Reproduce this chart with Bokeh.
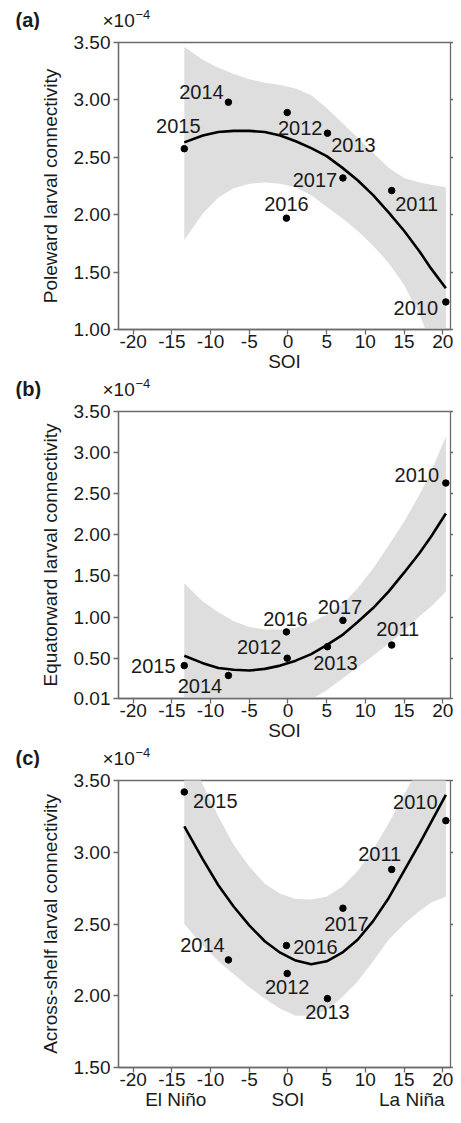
from bokeh.plotting import figure
from bokeh.models import Range1d, FixedTicker, LinearAxis, ColumnDataSource, PrintfTickFormatter
from bokeh.layouts import column
from bokeh.embed import file_html
from bokeh.resources import INLINE
from bokeh.core.properties import value

# ---------------- data (connectivity values in units of 1e-4) ----------------
years = ["2010", "2011", "2012", "2013", "2014", "2015", "2016", "2017"]
soi = [20.4, 13.4, -0.1, 5.1, -7.7, -13.4, -0.2, 7.1]
poleward = [1.24, 2.21, 2.89, 2.71, 2.98, 2.575, 1.97, 2.32]
equatorward = [2.63, 0.66, 0.50, 0.64, 0.29, 0.41, 0.82, 0.96]
across_shelf = [3.22, 2.88, 2.155, 1.98, 2.25, 3.42, 2.35, 2.61]

# fitted curves and confidence bands
fit_soi = [-13.4, -11, -9, -7, -5, -3, -1, 1, 3, 5, 7, 9, 11, 13, 15, 17, 18.5, 20.4]

pole_fit = [2.63, 2.69, 2.72, 2.73, 2.73, 2.72, 2.69, 2.64, 2.58, 2.51, 2.41, 2.30,
            2.17, 2.02, 1.86, 1.68, 1.53, 1.36]
pole_upper = [3.46, 3.35, 3.28, 3.225, 3.18, 3.15, 3.13, 3.10, 3.04, 2.93, 2.80, 2.67,
              2.54, 2.41, 2.32, 2.28, 2.26, 2.24]
pole_lower = [1.78, 2.01, 2.15, 2.23, 2.27, 2.28, 2.27, 2.24, 2.17, 2.07, 1.97, 1.86,
              1.73, 1.58, 1.39, 1.13, 0.88, 0.50]

equat_fit = [0.53, 0.44, 0.38, 0.36, 0.35, 0.37, 0.41, 0.47, 0.55, 0.66, 0.78, 0.94,
             1.11, 1.31, 1.54, 1.78, 1.98, 2.26]
equat_upper = [1.41, 1.19, 1.06, 0.95, 0.88, 0.85, 0.85, 0.87, 0.93, 1.03, 1.15, 1.35,
               1.59, 1.87, 2.16, 2.49, 2.77, 3.20]
equat_lower = [-0.20, -0.20, -0.20, -0.20, -0.20, -0.20, -0.20, -0.10, 0.00, 0.11, 0.25, 0.39,
               0.53, 0.68, 0.83, 1.01, 1.13, 1.31]

across_fit = [3.18, 2.95, 2.77, 2.62, 2.49, 2.38, 2.30, 2.245, 2.22, 2.24, 2.30, 2.39,
              2.52, 2.68, 2.87, 3.06, 3.21, 3.40]
across_upper = [3.75, 3.47, 3.25, 3.05, 2.90, 2.78, 2.71, 2.675, 2.67, 2.69, 2.76, 2.87,
                3.02, 3.20, 3.40, 3.60, 3.78, 4.00]
across_lower = [2.50, 2.35, 2.24, 2.15, 2.06, 1.98, 1.91, 1.86, 1.86, 1.90, 1.99, 2.10,
                2.24, 2.39, 2.50, 2.59, 2.65, 2.69]

x_ticks = [-20, -15, -10, -5, 0, 5, 10, 15, 20]
x_tick_labels = ["-20", "-15", "-10", "-5", "0", "5", "10", "15", "20"]
y_ticks_a = [1.00, 1.50, 2.00, 2.50, 3.00, 3.50]
y_ticks_b = [0.01, 0.50, 1.00, 1.50, 2.00, 2.50, 3.00, 3.50]
y_ticks_c = [1.50, 2.00, 2.50, 3.00, 3.50]
enso_ticks = [-14.5, 0, 16.0]
enso_labels = ["El Ni\u00f1o", "SOI", "La Ni\u00f1a"]

# ---------------- styling ----------------
FONT = "Liberation Sans"
SPINE = "#6b6b6b"
BAND = "#dedede"
TXT = "#1a1a1a"
W = 453
TOP = 12
MAIN_H = 347

# label offsets (px) in years order
off_a = ([-30, 25, 13, 26, -27, -6, 0, -28], [6, 13.5, 15, 12, -10, -22.5, -14, 2.5])
off_b = ([-29, 6, -28, 8, -28.5, -31, -1, -3], [-8.5, -16.5, -11.5, 16.5, 11, 0, -13, -13.5])
off_c = ([-30.5, -12, 0, 0, -26, 31, 29, 3.5], [-19, -15, 13.5, 13, -14.7, 9.5, 1, 16])


def strip(tag, h):
    """Header strip holding the panel tag and the x10^-4 multiplier (pixel coordinates)."""
    s = figure(width=W, height=h, output_backend="svg", toolbar_location=None,
               x_range=Range1d(0, W), y_range=Range1d(0, h),
               x_axis_location=None, y_axis_location=None,
               min_border=0, min_border_left=0, min_border_right=0,
               min_border_top=0, min_border_bottom=0)
    s.frame_align = False
    s.grid.visible = False
    s.outline_line_color = None
    s.text(x=[15], y=[22.6 - TOP], text=[tag], text_font=value(FONT),
           text_font_size=value("20px"), text_font_style="bold", text_baseline="middle",
           text_align="left", text_color=TXT)
    s.text(x=[102], y=[21.8 - TOP], text=["\u00d710"], text_font=value(FONT),
           text_font_size=value("19px"), text_baseline="middle", text_align="left",
           text_color=TXT)
    s.text(x=[135], y=[28.5 - TOP], text=["\u22124"], text_font=value(FONT),
           text_font_size=value("13px"), text_baseline="middle", text_align="left",
           text_color=TXT)
    return s


def panel(ylabel, yvals, fit, upper, lower, ylo, yticks, offs, enso=False):
    p = figure(width=W, height=MAIN_H, output_backend="svg", toolbar_location=None,
               x_range=Range1d(-21.9, 21.0), y_range=Range1d(ylo, 3.50),
               min_border_left=118, min_border_right=3, min_border_top=TOP,
               min_border_bottom=48)
    p.xgrid.visible = False
    p.ygrid.visible = False
    p.outline_line_color = SPINE
    p.outline_line_width = 1.3

    p.varea(x=fit_soi, y1=lower, y2=upper, fill_color=BAND)
    p.line(fit_soi, fit, line_color="black", line_width=2.6)
    p.scatter(soi, yvals, size=6.5, color="black")

    src = ColumnDataSource(dict(x=soi, y=yvals, t=years, dx=offs[0], dy=offs[1]))
    p.text(x="x", y="y", text="t", x_offset="dx", y_offset="dy", source=src,
           text_align="center", text_baseline="middle", text_font=value(FONT),
           text_font_size=value("20px"), text_color=TXT)

    xa = p.xaxis[0]
    xa.ticker = FixedTicker(ticks=x_ticks)
    xa.major_label_overrides = {t: lab for t, lab in zip(x_ticks, x_tick_labels)}
    if not enso:
        xa.axis_label = "SOI"
    ya = p.yaxis[0]
    ya.ticker = FixedTicker(ticks=yticks)
    ya.formatter = PrintfTickFormatter(format="%.2f")
    ya.axis_label = ylabel
    for ax in (xa, ya):
        ax.axis_line_color = SPINE
        ax.axis_line_width = 1.3
        ax.major_tick_line_color = SPINE
        ax.major_tick_line_width = 1.3
        ax.major_tick_in = 0
        ax.major_tick_out = 5
        ax.minor_tick_line_color = None
        ax.major_label_text_font = FONT
        ax.major_label_text_font_size = "19px"
        ax.major_label_text_color = TXT
        ax.axis_label_text_font = FONT
        ax.axis_label_text_font_size = "19px"
        ax.axis_label_text_font_style = "normal"
        ax.axis_label_text_color = TXT
    xa.major_label_standoff = 0
    xa.axis_label_standoff = 0
    ya.major_label_standoff = 3
    ya.axis_label_standoff = 10

    right = LinearAxis(ticker=FixedTicker(ticks=yticks), major_label_text_color=None,
                       major_label_standoff=0, major_tick_in=0, major_tick_out=3,
                       major_tick_line_color=SPINE, major_tick_line_width=1.3,
                       minor_tick_line_color=None, axis_line_color=None)
    p.add_layout(right, "right")

    if enso:
        ex = LinearAxis(ticker=FixedTicker(ticks=enso_ticks),
                        major_label_overrides={t: lab for t, lab in zip(enso_ticks, enso_labels)},
                        major_tick_in=0, major_tick_out=0, minor_tick_line_color=None,
                        major_tick_line_color=None, axis_line_color=None,
                        major_label_standoff=0, major_label_text_font=FONT,
                        major_label_text_font_size="19px", major_label_text_color=TXT)
        p.add_layout(ex, "below")
    return p


sa = strip("(a)", 30)
pa = panel("Poleward larval connectivity", poleward, pole_fit, pole_upper,
           pole_lower, 1.00, y_ticks_a, off_a)
sb = strip("(b)", 22)
pb = panel("Equatorward larval connectivity", equatorward, equat_fit, equat_upper,
           equat_lower, 0.01, y_ticks_b, off_b)
sc = strip("(c)", 22)
pc = panel("Across-shelf larval connectivity", across_shelf, across_fit, across_upper,
           across_lower, 1.50, y_ticks_c, off_c, enso=True)

layout = column(sa, pa, sb, pb, sc, pc)
open("out.html", "w").write(file_html(layout, INLINE))
